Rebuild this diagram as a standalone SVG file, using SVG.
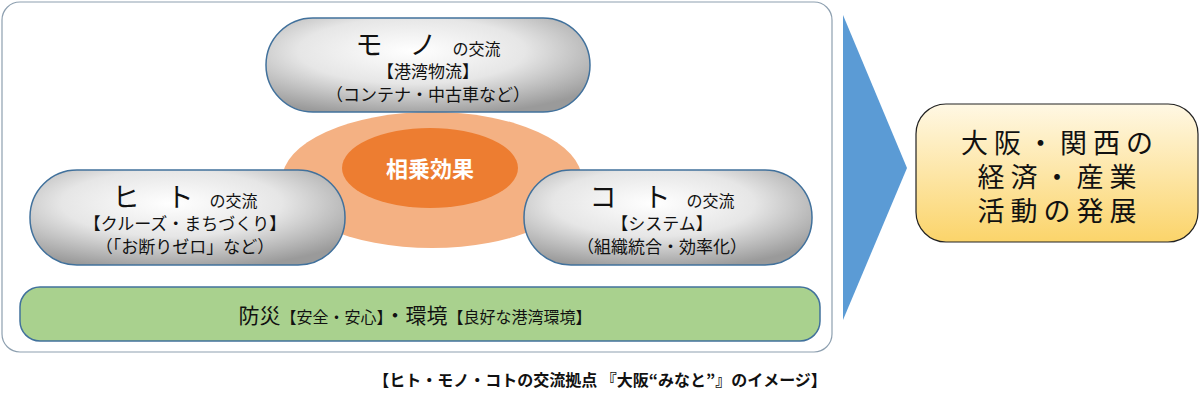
<svg xmlns="http://www.w3.org/2000/svg" width="1200" height="401" viewBox="0 0 1200 401">
<defs>
<radialGradient id="gray" cx="0.45" cy="0.35" r="0.7">
<stop offset="0" stop-color="#ffffff"/><stop offset="0.5" stop-color="#e6e6e6"/><stop offset="1" stop-color="#9a9a9a"/>
</radialGradient>
<linearGradient id="yel" x1="0" y1="0" x2="0" y2="1">
<stop offset="0" stop-color="#fff8e4"/><stop offset="1" stop-color="#fbd46a"/>
</linearGradient>
</defs>
<style>
text{font-family:"Noto Sans CJK JP","Noto Sans",sans-serif;fill:#111;text-anchor:middle}
.pill{fill:url(#gray);stroke:#41719c;stroke-width:1.5}
.big{font-size:27px}
.sm{font-size:16px}
.md{font-size:17px}
.r{font-size:27px;letter-spacing:6px}
</style>
<rect x="2" y="2" width="830" height="350" rx="18" fill="#fff" stroke="#8ea0b0" stroke-width="1.2"/>
<g id="synergy">
<ellipse cx="432" cy="180" rx="150" ry="68" fill="#f4b183"/>
<ellipse cx="430" cy="168" rx="88" ry="40" fill="#ed7d31"/>
<text x="430" y="177" style="font-size:22px;font-weight:bold;fill:#fff">相乗効果</text>
</g>
<g id="mono">
<rect x="266" y="18" width="324" height="94" rx="47" class="pill"/>
<text x="428" y="55"><tspan class="big">モ　ノ</tspan><tspan class="sm">　の交流</tspan></text>
<text x="428" y="78" class="md">【港湾物流】</text>
<text x="428" y="101" class="md">（コンテナ・中古車など）</text>
</g>
<g id="hito">
<rect x="30" y="170" width="315" height="95" rx="47" class="pill"/>
<text x="185" y="207"><tspan class="big">ヒ　ト</tspan><tspan class="sm">　の交流</tspan></text>
<text x="185" y="230" class="md">【クルーズ・まちづくり】</text>
<text x="185" y="253" class="md">（「お断りゼロ」など）</text>
</g>
<g id="koto">
<rect x="524" y="170" width="288" height="95" rx="47" class="pill"/>
<text x="662" y="207"><tspan class="big">コ　ト</tspan><tspan class="sm">　の交流</tspan></text>
<text x="662" y="230" class="md">【システム】</text>
<text x="662" y="253" class="md">（組織統合・効率化）</text>
</g>
<g id="bousai">
<rect x="20" y="287" width="800" height="54" rx="20" fill="#a9d18e" stroke="#41719c" stroke-width="1.5"/>
<text x="415" y="323"><tspan style="font-size:21px">防災</tspan><tspan class="sm">【安全・安心】</tspan><tspan style="font-size:21px">・環境</tspan><tspan class="sm">【良好な港湾環境】</tspan></text>
</g>
<g id="connectors">
<polygon points="843,15 907,168 843,320" fill="#5b9bd5"/>
</g>
<g id="result">
<rect x="916" y="104" width="282" height="138" rx="30" fill="url(#yel)" stroke="#222" stroke-width="1.2"/>
<text x="1060" y="153" class="r">大阪・関西の</text>
<text x="1060" y="187" class="r">経済・産業</text>
<text x="1060" y="221" class="r">活動の発展</text>
</g>
<text x="600" y="386" style="font-size:16px;font-weight:bold">【ヒト・モノ・コトの交流拠点 『大阪“みなと”』のイメージ】</text>
</svg>
